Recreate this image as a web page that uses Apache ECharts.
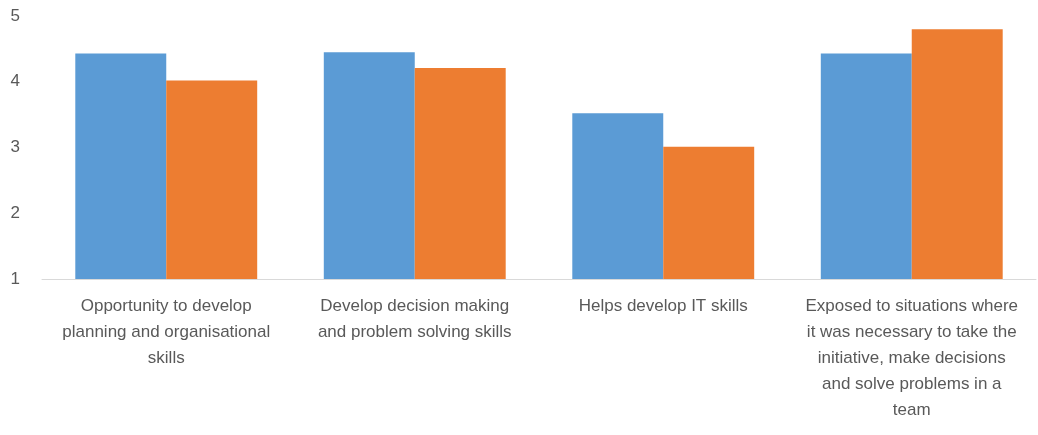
<!DOCTYPE html>
<html>
<head>
<meta charset="utf-8">
<script src="https://cdn.jsdelivr.net/npm/echarts@6/dist/echarts.min.js"></script>
<style>
    html, body { margin: 0; padding: 0; background: #fff; }
    #main { width: 1038px; height: 435px; }
</style>
</head>
<body>
<div id="main"></div>
<script>
var categories = [
    'Opportunity to develop\nplanning and organisational\nskills',
    'Develop decision making\nand problem solving skills',
    'Helps develop IT skills',
    'Exposed to situations where\nit was necessary to take the\ninitiative, make decisions\nand solve problems in a\nteam'
];
var seriesA = [4.43, 4.45, 3.52, 4.43];
var seriesB = [4.02, 4.21, 3.01, 4.80];
var yTicks = [1, 2, 3, 4, 5];

var myChart = echarts.init(document.getElementById('main'));

var font = '"Liberation Sans Narrow", "Liberation Sans", sans-serif';

var option = {
    animation: false,
    grid: {
        left: 42,
        right: 2,
        top: 16,
        height: 263,
        containLabel: false
    },
    xAxis: {
        type: 'category',
        data: categories,
        axisLine: { lineStyle: { color: '#d9d9d9', width: 1 } },
        axisTick: { show: false },
        axisLabel: {
            interval: 0,
            color: '#595959',
            fontFamily: font,
            fontSize: 17,
            lineHeight: 26,
            margin: 14
        }
    },
    yAxis: {
        type: 'value',
        min: yTicks[0],
        max: yTicks[yTicks.length - 1],
        interval: 1,
        splitLine: { show: false },
        axisLine: { show: false },
        axisTick: { show: false },
        axisLabel: {
            color: '#595959',
            fontFamily: font,
            fontSize: 17,
            margin: 22
        }
    },
    series: [
        {
            type: 'bar',
            data: seriesA,
            barWidth: '36.6%',
            barGap: '0%',
            itemStyle: { color: '#5b9bd5' }
        },
        {
            type: 'bar',
            data: seriesB,
            barWidth: '36.6%',
            itemStyle: { color: '#ed7d31' }
        }
    ]
};
myChart.setOption(option);
</script>
</body>
</html>
